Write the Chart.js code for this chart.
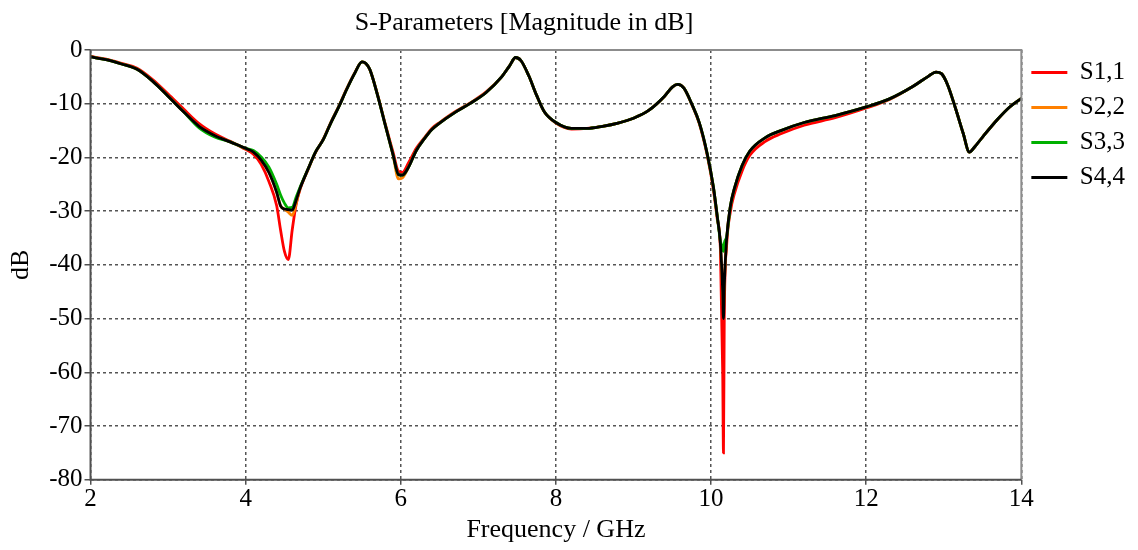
<!DOCTYPE html>
<html>
<head>
<meta charset="utf-8">
<script src="https://cdn.jsdelivr.net/npm/chart.js@4.4.0/dist/chart.umd.min.js"></script>
<style>
  html, body { margin: 0; padding: 0; background: #fff; }
  #wrap { position: relative; width: 1138px; height: 550px; }
</style>
</head>
<body>
<div id="wrap"><canvas id="sparamChart" width="1138" height="550"></canvas></div>
<script>
// Frequenz-Stützstellen (GHz), von Hand aus dem Bild gelesen
const freq = [
  2.0, 2.2, 2.4, 2.6, 2.8, 3.0, 3.2, 3.4, 3.6, 3.8,
  4.0, 4.1, 4.2, 4.3, 4.4, 4.45, 4.5, 4.55, 4.6, 4.65,
  4.7, 4.8, 4.9, 5.0, 5.1, 5.2, 5.3, 5.4, 5.5, 5.55,
  5.6, 5.7, 5.8, 5.9, 5.97, 6.02, 6.1, 6.2, 6.3, 6.4,
  6.5, 6.7, 6.9, 7.1, 7.3, 7.4, 7.48, 7.55, 7.65, 7.75,
  7.85, 8.0, 8.2, 8.4, 8.6, 8.8, 9.0, 9.2, 9.4, 9.5,
  9.57, 9.65, 9.75, 9.85, 9.95, 10.03, 10.08, 10.12, 10.15, 10.16,
  10.17, 10.2, 10.25, 10.3, 10.4, 10.5, 10.7, 10.9, 11.2, 11.6,
  12.0, 12.3, 12.6, 12.8, 12.9, 12.97, 13.05, 13.15, 13.25, 13.33,
  13.4, 13.5, 13.7, 13.85, 14.0
];

const s11 = [
  -1.2, -1.7, -2.5, -3.4, -5.5, -8.2, -11.0, -13.7, -15.6, -17.0,
  -18.5, -19.4, -21.3, -24.5, -29.0, -33.5, -37.5, -39.0, -33.5, -28.8,
  -26.0, -22.4, -19.1, -16.6, -13.4, -10.5, -7.3, -4.4, -2.2, -2.5,
  -3.6, -8.3, -13.8, -19.0, -22.6, -22.8, -21.0, -18.3, -16.4, -14.6,
  -13.5, -11.5, -9.8, -7.8, -5.0, -3.0, -1.4, -2.0, -4.8, -8.4,
  -11.5, -13.6, -14.7, -14.6, -14.2, -13.6, -12.7, -11.2, -8.6, -6.9,
  -6.4, -7.1, -10.1, -13.8, -19.6, -26.0, -31.5, -37.0, -60.0, -75.0,
  -50.0, -36.5, -30.0, -26.8, -22.5, -19.6, -17.0, -15.6, -14.0, -12.6,
  -10.8, -9.2, -6.8, -4.9, -4.1, -4.4, -6.5, -10.8, -15.5, -19.0,
  -18.0, -16.2, -12.8, -10.6, -9.0
];

const s22 = [
  -1.3, -1.8, -2.6, -3.6, -5.8, -8.6, -11.5, -14.2, -15.9, -17.1,
  -18.3, -19.0, -20.5, -22.8, -26.5, -29.0, -29.6, -30.2, -30.8, -28.6,
  -25.8, -22.3, -19.0, -16.7, -13.5, -10.6, -7.4, -4.5, -2.2, -2.5,
  -3.6, -8.4, -14.0, -19.6, -24.0, -23.8, -21.8, -18.7, -16.6, -14.8,
  -13.6, -11.6, -9.9, -7.9, -5.0, -3.0, -1.4, -2.0, -4.8, -8.4,
  -11.5, -13.5, -14.6, -14.6, -14.2, -13.6, -12.7, -11.2, -8.6, -6.9,
  -6.4, -7.1, -10.0, -13.6, -19.3, -25.5, -31.0, -36.0, -45.0, -48.0,
  -44.0, -35.3, -29.0, -25.8, -21.5, -18.8, -16.3, -15.0, -13.5, -12.2,
  -10.6, -9.1, -6.8, -4.9, -4.1, -4.4, -6.5, -10.8, -15.5, -19.0,
  -18.0, -16.2, -12.8, -10.6, -9.0
];

const s33 = [
  -1.3, -1.8, -2.6, -3.6, -5.8, -8.6, -11.5, -14.5, -16.2, -17.1,
  -18.3, -18.7, -19.9, -21.8, -25.0, -27.0, -28.5, -29.4, -29.3, -27.4,
  -25.6, -22.3, -19.0, -16.7, -13.5, -10.6, -7.4, -4.5, -2.2, -2.5,
  -3.6, -8.4, -14.0, -19.5, -23.2, -23.3, -21.8, -18.7, -16.6, -14.8,
  -13.6, -11.6, -9.9, -7.9, -5.0, -3.0, -1.4, -2.0, -4.8, -8.4,
  -11.5, -13.5, -14.6, -14.6, -14.2, -13.6, -12.7, -11.2, -8.6, -6.9,
  -6.4, -7.1, -10.0, -13.6, -19.3, -25.5, -31.0, -35.5, -37.0, -37.5,
  -36.0, -34.8, -29.0, -25.8, -21.5, -18.8, -16.3, -15.0, -13.5, -12.2,
  -10.6, -9.1, -6.8, -4.9, -4.1, -4.4, -6.5, -10.8, -15.5, -19.0,
  -18.0, -16.2, -12.8, -10.6, -9.0
];

const s44 = [
  -1.3, -1.8, -2.6, -3.6, -5.8, -8.6, -11.5, -14.2, -15.9, -17.1,
  -18.3, -19.0, -20.5, -22.8, -26.5, -29.0, -29.6, -29.7, -29.8, -28.0,
  -25.8, -22.3, -19.0, -16.7, -13.5, -10.6, -7.4, -4.5, -2.2, -2.5,
  -3.6, -8.4, -14.0, -19.5, -23.2, -23.3, -21.8, -18.7, -16.6, -14.8,
  -13.6, -11.6, -9.9, -7.9, -5.0, -3.0, -1.4, -2.0, -4.8, -8.4,
  -11.5, -13.5, -14.6, -14.6, -14.2, -13.6, -12.7, -11.2, -8.6, -6.9,
  -6.4, -7.1, -10.0, -13.6, -19.3, -25.5, -31.0, -36.0, -45.0, -50.0,
  -44.0, -35.3, -29.0, -25.8, -21.5, -18.8, -16.3, -15.0, -13.5, -12.2,
  -10.6, -9.1, -6.8, -4.9, -4.1, -4.4, -6.5, -10.8, -15.5, -19.0,
  -18.0, -16.2, -12.8, -10.6, -9.0
];

const seriesNames = ["S1,1", "S2,2", "S3,3", "S4,4"];
const seriesColors = ["#ff0000", "#ff8000", "#00b000", "#000000"];
const xTicks = [2, 4, 6, 8, 10, 12, 14];
const yTicks = [0, -10, -20, -30, -40, -50, -60, -70, -80];

const chartTitle = "S-Parameters [Magnitude in dB]";
const serif = "'Liberation Serif', 'Times New Roman', serif";

// Titel und Rahmen selbst zeichnen
const framePlugin = {
  id: "framePlugin",
  afterDraw(chart) {
    const { ctx, chartArea: a } = chart;
    ctx.save();
    ctx.lineWidth = 2;
    ctx.strokeStyle = "#8c8c8c";
    ctx.beginPath();
    ctx.moveTo(a.left, a.top);
    ctx.lineTo(a.right, a.top);
    ctx.lineTo(a.right, a.bottom);
    ctx.stroke();
    ctx.strokeStyle = "#505050";
    ctx.beginPath();
    ctx.moveTo(a.left, a.top);
    ctx.lineTo(a.left, a.bottom);
    ctx.lineTo(a.right, a.bottom);
    ctx.stroke();

    ctx.fillStyle = "#000";
    ctx.font = "26px " + serif;
    ctx.textAlign = "center";
    ctx.textBaseline = "middle";
    ctx.fillText(chartTitle, 524, 23);
    ctx.restore();
  },
};

function toPoints(values) {
  return values.map((v, i) => ({ x: freq[i], y: v }));
}

const allSeries = [s11, s22, s33, s44];
const datasets = allSeries.map((vals, idx) => ({
  label: seriesNames[idx],
  data: toPoints(vals),
  borderColor: seriesColors[idx],
  backgroundColor: seriesColors[idx],
  borderWidth: 2.8,
  pointRadius: 0,
  fill: false,
  tension: 0,
  cubicInterpolationMode: "monotone",
  order: 4 - idx,
}));

const ctx = document.getElementById("sparamChart").getContext("2d");
new Chart(ctx, {
  type: "line",
  data: { datasets: datasets },
  plugins: [framePlugin],
  options: {
    responsive: false,
    animation: false,
    layout: { padding: { top: 50, right: 3, left: 6, bottom: 4 } },
    plugins: {
      title: { display: false },
      tooltip: { enabled: false },
      legend: {
        position: "right",
        align: "start",
        labels: {
          usePointStyle: true,
          pointStyle: "line",
          pointStyleWidth: 36,
          color: "#000",
          padding: 10,
          font: { family: serif, size: 25 },
          sort: (a, b) => a.datasetIndex - b.datasetIndex,
        },
      },
    },
    scales: {
      x: {
        type: "linear",
        min: 2,
        max: 14,
        afterBuildTicks: (axis) => {
          axis.ticks = xTicks.map((v) => ({ value: v }));
        },
        ticks: {
          color: "#000",
          font: { family: serif, size: 25 },
          padding: 0,
          maxRotation: 0,
        },
        grid: {
          color: "#555",
          lineWidth: 1.5,
          tickLength: 5,
          tickColor: "#505050",
          tickBorderDash: [],
        },
        border: { display: false, dash: [3, 3] },
        title: {
          display: true,
          text: "Frequency / GHz",
          color: "#000",
          font: { family: serif, size: 26 },
          padding: { top: 0, bottom: 0 },
        },
      },
      y: {
        type: "linear",
        min: -80,
        max: 0,
        afterBuildTicks: (axis) => {
          axis.ticks = yTicks.map((v) => ({ value: v }));
        },
        ticks: {
          color: "#000",
          font: { family: serif, size: 25 },
          padding: 2,
        },
        grid: {
          color: "#555",
          lineWidth: 1.5,
          tickLength: 6,
          tickColor: "#505050",
          tickBorderDash: [],
        },
        border: { display: false, dash: [3, 3] },
        title: {
          display: true,
          text: "dB",
          color: "#000",
          font: { family: serif, size: 26 },
          padding: { top: 0, bottom: 10 },
        },
      },
    },
  },
});
</script>
</body>
</html>
